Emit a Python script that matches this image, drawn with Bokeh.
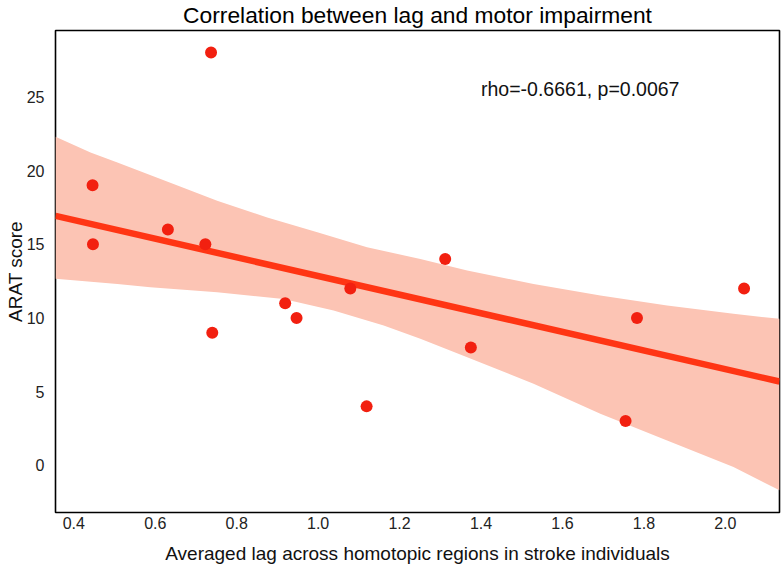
import numpy as np
from bokeh.plotting import figure
from bokeh.models import Range1d, Label, FixedTicker
from bokeh.embed import file_html
from bokeh.resources import INLINE

# ---- data ----
lag = [0.446, 0.447, 0.737, 0.631, 0.723, 0.740, 0.919, 0.947, 1.079, 1.119,
       1.312, 1.375, 1.755, 1.783, 2.046]
arat = [19, 15, 28, 16, 15, 9, 11, 10, 12, 4, 14, 8, 3, 10, 12]

# confidence band edges (bootstrap band)
band_upper_x = [0.355, 0.441, 0.507, 0.645, 0.752, 0.875, 0.998, 1.120, 1.251,
                1.366, 1.529, 1.693, 1.857, 2.020, 2.133]
band_upper_y = [22.29, 21.23, 20.55, 19.09, 17.95, 16.82, 15.81, 14.79, 14.00,
                13.21, 12.31, 11.52, 10.84, 10.28, 9.94]
band_lower_x = [0.355, 0.507, 0.588, 0.752, 0.915, 1.038, 1.161, 1.251, 1.366,
                1.529, 1.693, 1.857, 2.020, 2.133]
band_lower_y = [12.65, 12.31, 12.08, 11.74, 11.29, 10.50, 9.49, 8.58, 7.34,
                5.54, 3.50, 1.69, -0.12, -1.69]

x_ticks = [0.4, 0.6, 0.8, 1.0, 1.2, 1.4, 1.6, 1.8, 2.0]
x_tick_labels = ["0.4", "0.6", "0.8", "1.0", "1.2", "1.4", "1.6", "1.8", "2.0"]
y_ticks = [0, 5, 10, 15, 20, 25]
y_tick_labels = ["0", "5", "10", "15", "20", "25"]

title_text = "Correlation between lag and motor impairment"
x_label = "Averaged lag across homotopic regions in stroke individuals"
y_label = "ARAT score"
stat_text = "rho=-0.6661, p=0.0067"
stat_pos = (1.4, 25)

FONT = "Liberation Sans"

# ---- regression fit ----
slope, intercept = np.polyfit(np.array(lag), np.array(arat), 1)
line_x = [band_upper_x[0], band_upper_x[-1]]
line_y = [intercept + slope * v for v in line_x]

W, H = 783, 567
ML, MR, MT, MB = 55, 4, 29, 55

p = figure(width=W, height=H,
           x_range=Range1d(0.355, 2.133), y_range=Range1d(-3.2, 29.5),
           output_backend="svg", toolbar_location=None,
           min_border_left=ML, min_border_right=MR,
           min_border_top=MT, min_border_bottom=MB,
           title=title_text)

p.title.text_font = FONT
p.title.text_font_size = "22.8px"
p.title.text_font_style = "normal"
p.title.align = "center"
p.title.vertical_align = "top"
p.title.text_color = "black"
p.title.standoff = 2
p.title.offset = 0

p.xgrid.visible = False
p.ygrid.visible = False
p.outline_line_color = "black"
p.outline_line_width = 1.6
p.background_fill_color = "white"
p.border_fill_color = "white"

# band
band_xs = band_upper_x + band_lower_x[::-1]
band_ys = band_upper_y + band_lower_y[::-1]
p.patch(band_xs, band_ys, fill_color="#fcc4b4", line_color=None)

# regression line
p.line(line_x, line_y, line_color="#ff3514", line_width=6.5)

# points
p.scatter(lag, arat, size=12, fill_color="#f22010", line_color=None)

p.add_layout(Label(x=stat_pos[0], y=stat_pos[1], text=stat_text,
                   text_font=FONT, text_font_size="19.5px",
                   text_baseline="alphabetic", text_align="left",
                   y_offset=8, text_color="#111111"))

for ax in (p.xaxis[0], p.yaxis[0]):
    ax.axis_line_color = None
    ax.major_tick_line_color = None
    ax.minor_tick_line_color = None
    ax.major_tick_out = 0
    ax.major_tick_in = 0
    ax.minor_tick_out = 0
    ax.minor_tick_in = 0
    ax.major_label_text_font = FONT
    ax.major_label_text_font_size = "16px"
    ax.major_label_text_color = "#222222"
    ax.axis_label_text_font = FONT
    ax.axis_label_text_font_size = "19px"
    ax.axis_label_text_font_style = "normal"
    ax.axis_label_text_color = "#111111"
    ax.axis_label_text_line_height = 1.0

p.xaxis.ticker = FixedTicker(ticks=x_ticks)
p.xaxis.major_label_overrides = {t: l for t, l in zip(x_ticks, x_tick_labels)}
p.yaxis.ticker = FixedTicker(ticks=y_ticks)
p.yaxis.major_label_overrides = {t: l for t, l in zip(y_ticks, y_tick_labels)}
p.xaxis.axis_label = x_label
p.yaxis.axis_label = y_label
p.xaxis.major_label_standoff = 4
p.xaxis.axis_label_standoff = 11
p.yaxis.major_label_standoff = 11
p.yaxis.axis_label_standoff = -2

open("out.html", "w").write(file_html(p, INLINE))
